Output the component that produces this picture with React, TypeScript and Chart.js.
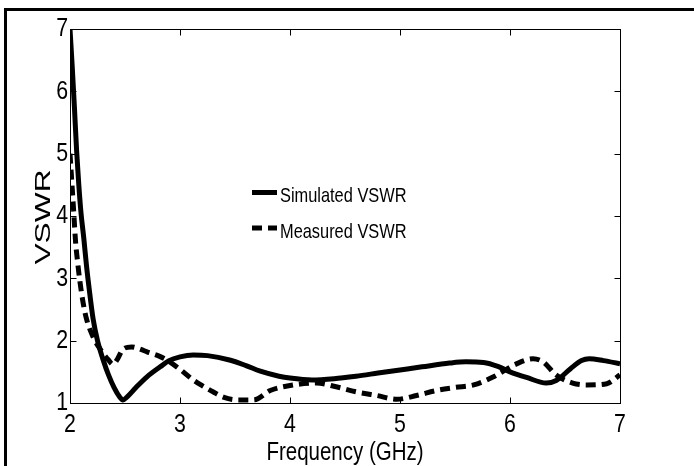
import React, { useEffect, useRef } from "react";
import { Chart, registerables } from "chart.js";

Chart.register(...registerables);

// ---- data ----
const simFreq = [
  2.0, 2.02, 2.04, 2.06, 2.08, 2.1, 2.125, 2.15, 2.18, 2.21, 2.25, 2.3, 2.35, 2.4, 2.45, 2.48,
  2.52, 2.6, 2.7, 2.82, 2.9, 3.0, 3.12, 3.25, 3.45, 3.6, 3.73, 3.9, 4.0, 4.2, 4.4, 4.6, 4.8,
  5.0, 5.2, 5.45, 5.6, 5.76, 5.9, 6.0, 6.15, 6.33, 6.42, 6.55, 6.65, 6.72, 6.85, 7.0,
];
const simVSWR = [
  7.0, 6.4, 5.75, 5.05, 4.5, 4.05, 3.65, 3.2, 2.75, 2.35, 2.0, 1.7, 1.45, 1.25, 1.1, 1.05,
  1.1, 1.25, 1.42, 1.58, 1.68, 1.74, 1.77, 1.76, 1.69, 1.6, 1.51, 1.43, 1.4, 1.37, 1.39, 1.43, 1.48,
  1.53, 1.58, 1.64, 1.66, 1.65, 1.58, 1.5, 1.41, 1.32, 1.36, 1.55, 1.68, 1.71, 1.68, 1.63,
];
const measFreq = [
  2.0, 2.02, 2.036, 2.05, 2.07, 2.09, 2.12, 2.15, 2.21, 2.28, 2.35, 2.39, 2.43, 2.48, 2.56, 2.63,
  2.7, 2.8, 2.88, 3.0, 3.12, 3.22, 3.3, 3.4, 3.52, 3.67, 3.82, 4.0, 4.24, 4.42, 4.6, 4.79, 4.97,
  5.15, 5.33, 5.5, 5.67, 5.85, 6.05, 6.21, 6.3, 6.42, 6.57, 6.7, 6.88, 7.0,
];
const measVSWR = [
  5.0, 4.45, 4.0, 3.6, 3.25, 2.95, 2.6, 2.35, 2.06, 1.85, 1.69, 1.62, 1.7, 1.86, 1.9, 1.87,
  1.82, 1.76, 1.69, 1.54, 1.37, 1.26, 1.18, 1.09, 1.05, 1.05, 1.2, 1.28, 1.32, 1.26, 1.18, 1.12, 1.06,
  1.12, 1.2, 1.25, 1.29, 1.42, 1.62, 1.71, 1.66, 1.45, 1.32, 1.29, 1.31, 1.45,
];
const xTickValues = [2, 3, 4, 5, 6, 7];
const yTickValues = [1, 2, 3, 4, 5, 6, 7];
const seriesLabels = ["Simulated VSWR", "Measured VSWR"];
const xTitle = "Frequency (GHz)";
const yTitle = "VSWR";

const FONT = '"Liberation Sans", Arial, sans-serif';

function drawText(
  ctx: CanvasRenderingContext2D,
  text: string,
  x: number,
  y: number,
  size: number,
  sx: number,
  align: CanvasTextAlign,
  baseline: CanvasTextBaseline,
  rot = 0
) {
  ctx.save();
  ctx.translate(x, y);
  if (rot) ctx.rotate(rot);
  ctx.scale(sx, 1);
  ctx.font = `${size}px ${FONT}`;
  ctx.fillStyle = "#000";
  ctx.textAlign = align;
  ctx.textBaseline = baseline;
  ctx.fillText(text, 0, 0);
  ctx.restore();
}

const framePlugin = {
  id: "frame",
  beforeDraw(chart: any) {
    const ctx = chart.ctx;
    ctx.save();
    ctx.fillStyle = "#000";
    // outer figure border (left and top)
    ctx.fillRect(4, 8, chart.width - 4, 3);
    ctx.fillRect(4, 8, 3, chart.height - 8);
    ctx.restore();
  },
  afterDraw(chart: any) {
    const ctx = chart.ctx;
    const a = chart.chartArea;
    const xs = chart.scales.x;
    const ys = chart.scales.y;
    const L = Math.round(a.left) + 0.5;
    const R = Math.round(a.right) + 0.5;
    const T = Math.round(a.top) + 0.5;
    const B = Math.round(a.bottom) + 0.5;
    ctx.save();
    ctx.strokeStyle = "#000";
    ctx.lineWidth = 1;
    ctx.strokeRect(L, T, R - L, B - T);
    const tl = 6;
    ctx.beginPath();
    for (const t of xs.ticks) {
      const px = Math.round(xs.getPixelForValue(t.value)) + 0.5;
      ctx.moveTo(px, B);
      ctx.lineTo(px, B - tl);
      ctx.moveTo(px, T);
      ctx.lineTo(px, T + tl);
    }
    for (const t of ys.ticks) {
      const py = Math.round(ys.getPixelForValue(t.value)) + 0.5;
      ctx.moveTo(L, py);
      ctx.lineTo(L + tl, py);
      ctx.moveTo(R, py);
      ctx.lineTo(R - tl, py);
    }
    ctx.stroke();
    ctx.restore();

    // tick labels
    for (const t of xs.ticks) {
      const px = xs.getPixelForValue(t.value);
      drawText(ctx, String(t.value), px, a.bottom + 29, 26, 0.82, "center", "alphabetic");
    }
    for (const t of ys.ticks) {
      const py = ys.getPixelForValue(t.value);
      drawText(ctx, String(t.value), a.left - 2, py, 26, 0.82, "right", "middle");
    }
    // axis titles
    drawText(ctx, xTitle, (a.left + a.right) / 2, a.bottom + 57, 25, 0.82, "center", "alphabetic");
    drawText(ctx, yTitle, 50, (a.top + a.bottom) / 2 + 1, 22, 1.44, "center", "alphabetic", -Math.PI / 2);

    // in-plot legend
    const lx0 = 252;
    const lx1 = 277;
    const ly0 = 192.5;
    const dy = 35.5;
    chart.data.datasets.forEach((ds: any, i: number) => {
      const y = ly0 + i * dy;
      ctx.save();
      ctx.beginPath();
      ctx.lineWidth = ds.borderWidth;
      ctx.strokeStyle = ds.borderColor;
      ctx.setLineDash(ds.borderDash || []);
      ctx.lineCap = "butt";
      ctx.moveTo(lx0, y);
      ctx.lineTo(lx1, y);
      ctx.stroke();
      ctx.restore();
      drawText(ctx, ds.label, 280, y + 9.5, 21, 0.78, "left", "alphabetic");
    });
  },
};

export default function App() {
  const ref = useRef<HTMLCanvasElement | null>(null);

  useEffect(() => {
    document.body.style.margin = "0";
    const canvas = ref.current;
    if (!canvas) return;
    const chart = new Chart(canvas, {
      type: "line",
      data: {
        datasets: [
          {
            label: seriesLabels[0],
            data: simFreq.map((f, i) => ({ x: f, y: simVSWR[i] })),
            borderColor: "#000",
            borderWidth: 5,
            pointRadius: 0,
            cubicInterpolationMode: "monotone",
            fill: false,
          },
          {
            label: seriesLabels[1],
            data: measFreq.map((f, i) => ({ x: f, y: measVSWR[i] })),
            borderColor: "#000",
            borderWidth: 5,
            borderDash: [10, 6],
            pointRadius: 0,
            cubicInterpolationMode: "monotone",
            fill: false,
          },
        ],
      },
      options: {
        animation: false,
        responsive: false,
        devicePixelRatio: 1,
        layout: { padding: { top: 29, right: 74, left: 0, bottom: 0 } },
        plugins: { legend: { display: false }, tooltip: { enabled: false } },
        scales: {
          x: {
            type: "linear",
            min: 2,
            max: 7,
            afterBuildTicks: (s: any) => {
              s.ticks = xTickValues.map((v) => ({ value: v }));
            },
            afterFit: (s: any) => {
              s.height = 63;
            },
            grid: { display: false },
            border: { display: false },
            ticks: { display: false, autoSkip: false },
            title: { display: false },
          },
          y: {
            type: "linear",
            min: 1,
            max: 7,
            afterBuildTicks: (s: any) => {
              s.ticks = yTickValues.map((v) => ({ value: v }));
            },
            afterFit: (s: any) => {
              s.width = 70;
            },
            grid: { display: false },
            border: { display: false },
            ticks: { display: false, autoSkip: false },
            title: { display: false },
          },
        },
      },
      plugins: [framePlugin],
    } as any);
    return () => chart.destroy();
  }, []);

  return (
    <div style={{ position: "fixed", left: 0, top: 0, width: 694, height: 466, background: "#fff" }}>
      <canvas ref={ref} width={694} height={466} style={{ display: "block", width: 694, height: 466 }} />
    </div>
  );
}
